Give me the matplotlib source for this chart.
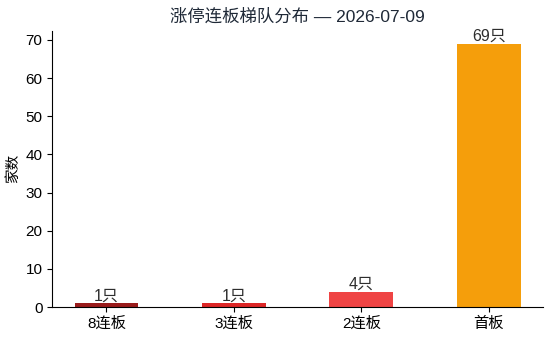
import matplotlib
matplotlib.use('Agg')
from matplotlib import pyplot as plt

plt.rcParams['font.family'] = ['Liberation Sans', 'Noto Sans CJK SC', 'DejaVu Sans']

# data
categories = ['8连板', '3连板', '2连板', '首板']
counts = [1, 1, 4, 69]
bar_colors = ['#991b1b', '#dc2626', '#ef4444', '#f59e0b']
title = '涨停连板梯队分布 — 2026-07-09'

fig, ax = plt.subplots(figsize=(5.5, 3.39), dpi=100)
x = range(len(categories))
bars = ax.bar(x, counts, width=0.5, color=bar_colors)
for b, c in zip(bars, counts):
    ax.text(b.get_x() + b.get_width() / 2, b.get_height(), f'{c}只',
            ha='center', va='bottom', fontsize=11.5, color='#2d2d2d')

ax.set_xticks(list(x))
ax.set_xticklabels(categories)
ax.set_ylabel('家数', fontsize=10.5)
ax.set_title(title, fontsize=12.5, color='#1f2937')
ax.tick_params(labelsize=11)
ax.spines['top'].set_visible(False)
ax.spines['right'].set_visible(False)

plt.subplots_adjust(left=0.095, right=0.987, top=0.91, bottom=0.094)
plt.savefig('out.png', dpi=100)
